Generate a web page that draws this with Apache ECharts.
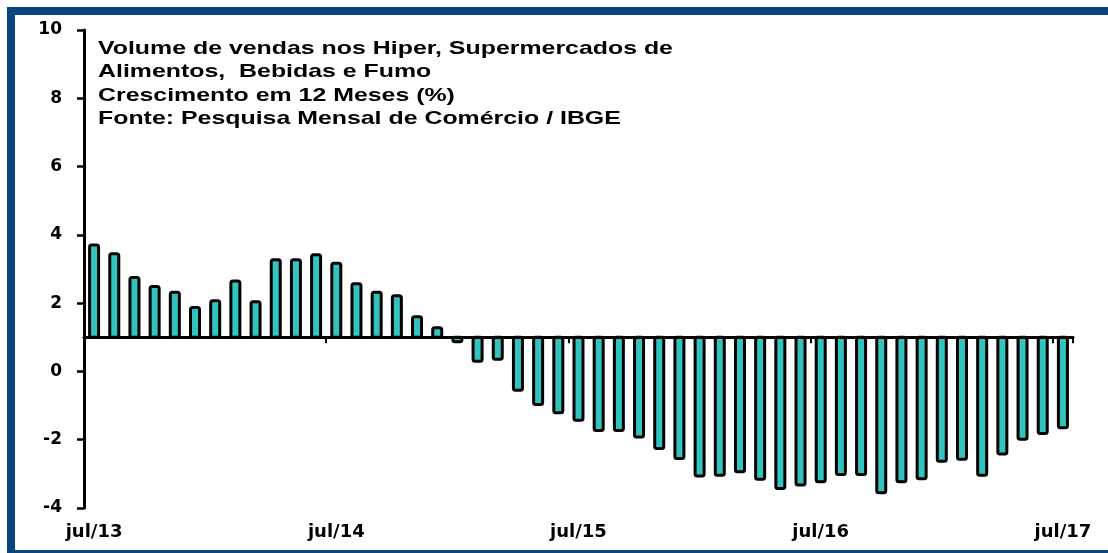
<!DOCTYPE html>
<html>
<head>
<meta charset="utf-8">
<script src="https://cdn.jsdelivr.net/npm/echarts@6/dist/echarts.min.js"></script>
<style>
  html, body { margin: 0; padding: 0; background: #fff; }
  #wrap { position: relative; width: 1108px; height: 553px; overflow: hidden; }
  #chart { position: absolute; left: 0; top: 0; width: 1108px; height: 553px; }
  #frame { position: absolute; left: 7px; top: 7px; width: 1101px; height: 546px; box-sizing: border-box;
           border-left: 8px solid #0a4583; border-top: 8px solid #0a4583; border-bottom: 3px solid #0a4583; pointer-events: none; }
</style>
</head>
<body>
<div id="wrap">
  <div id="chart"></div>
  <div id="frame"></div>
</div>
<script>
// Categories (months jul/13 .. jul/17)
const months = [
  'jul/13','ago/13','set/13','out/13','nov/13','dez/13','jan/14','fev/14','mar/14','abr/14','mai/14','jun/14',
  'jul/14','ago/14','set/14','out/14','nov/14','dez/14','jan/15','fev/15','mar/15','abr/15','mai/15','jun/15',
  'jul/15','ago/15','set/15','out/15','nov/15','dez/15','jan/16','fev/16','mar/16','abr/16','mai/16','jun/16',
  'jul/16','ago/16','set/16','out/16','nov/16','dez/16','jan/17','fev/17','mar/17','abr/17','mai/17','jun/17',
  'jul/17'
];
// Growth in 12 months (%)
const growth = [
  3.70, 3.45, 2.75, 2.49, 2.32, 1.87, 2.07, 2.65, 2.04, 3.27, 3.27, 3.42,
  3.17, 2.57, 2.32, 2.22, 1.60, 1.28, 0.87, 0.30, 0.36, -0.55, -0.97, -1.21,
  -1.43, -1.73, -1.73, -1.92, -2.26, -2.55, -3.06, -3.04, -2.94, -3.16, -3.43, -3.33,
  -3.23, -3.02, -3.02, -3.55, -3.23, -3.14, -2.63, -2.57, -3.04, -2.42, -1.99, -1.82,
  -1.65
];
const baseLevel = 1;
const yTicks = { min: -4, max: 10, interval: 2 };
const titleLines = [
  'Volume de vendas nos Hiper, Supermercados de',
  'Alimentos,  Bebidas e Fumo',
  'Crescimento em 12 Meses (%)',
  'Fonte: Pesquisa Mensal de Comércio / IBGE'
];

const FONT = '"DejaVu Sans", Verdana, sans-serif';
const TITLE_FONT = '"Liberation Sans", Arial, Helvetica, sans-serif';
const chart = echarts.init(document.getElementById('chart'), null, { renderer: 'canvas' });

chart.setOption({
  animation: false,
  backgroundColor: '#ffffff',
  graphic: [
    {
      type: 'text', x: 98, y: 37, scaleX: 1.31, z: 10,
      style: {
        text: titleLines.join('\n'),
        font: 'bold 19px ' + TITLE_FONT,
        lineHeight: 23.5,
        fill: '#000',
        textAlign: 'left', textVerticalAlign: 'top'
      }
    }
  ],
  grid: { left: 84, right: 35, top: 30, bottom: 45, containLabel: false },
  xAxis: [
    {
      type: 'category', data: months, position: 'bottom', z: 5,
      axisLine: { show: true, onZero: true, onZeroAxisIndex: 1, lineStyle: { color: '#000', width: 3 } },
      axisTick: { show: true, interval: function (i) { return i % 12 === 0; }, length: 6, lineStyle: { color: '#000', width: 2 } },
      axisLabel: { show: false },
      splitLine: { show: false }
    },
    {
      type: 'category', data: months, position: 'bottom',
      axisLine: { show: false, onZero: false },
      axisTick: { show: false },
      axisLabel: { interval: 11, margin: 15, fontFamily: FONT, fontWeight: 'bold', fontSize: 18, color: '#000' },
      splitLine: { show: false }
    }
  ],
  yAxis: [
    {
      type: 'value', min: yTicks.min, max: yTicks.max, interval: yTicks.interval,
      axisLine: { show: true, lineStyle: { color: '#000', width: 3 } },
      axisTick: { show: true, length: 7, lineStyle: { color: '#000', width: 2.5 } },
      axisLabel: { margin: 22, fontFamily: FONT, fontWeight: 'bold', fontSize: 17, color: '#000' },
      splitLine: { show: false }
    },
    {
      type: 'value', min: yTicks.min - baseLevel, max: yTicks.max - baseLevel, show: false,
      splitLine: { show: false }
    }
  ],
  series: [
    {
      type: 'custom',
      xAxisIndex: 0, yAxisIndex: 0, z: 2,
      data: growth.map((v, i) => [i, v]),
      renderItem: function (params, api) {
        const i = api.value(0), v = api.value(1);
        const b = api.coord([i, baseLevel]);
        const t = api.coord([i, v]);
        const w = 9;
        return {
          type: 'rect',
          shape: { x: b[0] - w / 2, y: Math.min(b[1], t[1]), width: w, height: Math.abs(t[1] - b[1]), r: 2 },
          style: { fill: '#33c3bf', stroke: '#000', lineWidth: 3 }
        };
      }
    }
  ]
});
</script>
</body>
</html>
